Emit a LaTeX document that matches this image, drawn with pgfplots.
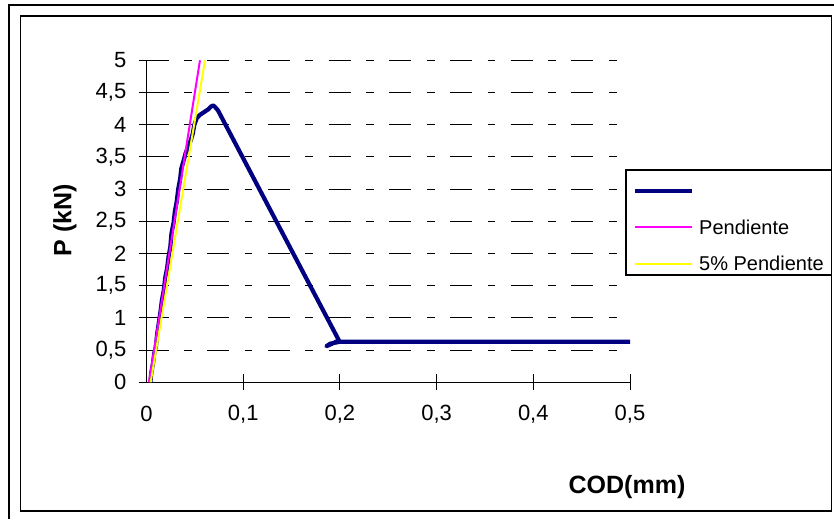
\documentclass[border=0pt]{standalone}
\usepackage{pgfplots}
\pgfplotsset{compat=1.18}
\usepackage{fontspec}
\setmainfont{Liberation Sans}
\definecolor{navyc}{RGB}{0,0,128}
\definecolor{pinkc}{RGB}{255,0,255}
\definecolor{yellowc}{RGB}{255,255,0}
\begin{document}
\begin{tikzpicture}[x=1pt,y=1pt]
\path[use as bounding box] (0,0) rectangle (834,519);
\fill[white] (0,0) rectangle (834,519);
\draw[line width=2.7pt] (9,0) -- (9,514) -- (834,514);
\draw[line width=1.2pt] (20.5,8) rectangle (831.5,503);
\begin{axis}[
  at={(146.5pt,136.7pt)}, anchor=origin,
  scale only axis, width=483.5pt, height=322pt,
  xmin=0, xmax=0.5, ymin=0, ymax=5,
  clip=false,
  axis lines*=left,
  axis line style={-, line width=1.3pt},
  xtick={0.1,0.2,0.3,0.4,0.5},
  extra x ticks={0},
  extra x tick style={major tick length=0pt, xticklabel style={yshift=-9pt}},
  ytick={0,0.5,1,1.5,2,2.5,3,3.5,4,4.5,5},
  tick align=center,
  major tick length=16pt,
  tick style={line width=1pt, black},
  ymajorgrids,
  grid style={line width=1pt, black, dash pattern=on 22pt off 15.5pt on 7.7pt off 15.5pt},
  /pgf/number format/.cd, use comma, 1000 sep={}, assume math mode=true,
  /pgfplots/.cd,
  ticklabel style={font=\fontsize{22}{24}\selectfont},
  xticklabel style={inner sep=0pt, text height=16pt, text depth=0pt, anchor=north, yshift=-14pt},
  yticklabel style={inner sep=0pt, anchor=east, xshift=-12pt},
  xlabel={\textbf{COD(mm)}},
  ylabel={\textbf{P (kN)}},
  label style={font=\fontsize{25}{28}\selectfont},
  xlabel style={at={(axis description cs:0.9938,-0.325)}, anchor=center},
  ylabel style={at={(axis description cs:-0.1686,0.504)}, anchor=center},
  legend style={draw=none, fill=none, at={(1.0062,0.6168)}, anchor=north west,
    inner sep=0pt, outer sep=0pt, row sep=22.5pt, column sep=5pt,
    nodes={inner sep=0pt, text height=14pt, text depth=0pt, font=\fontsize{20}{22}\selectfont}},
  legend cell align=left,
  legend image code/.code={\draw[#1] (0pt,0pt) -- (57pt,0pt);},
]
\addplot[navyc, line width=4.2pt, line join=round] coordinates {
(0.004,0.00) (0.005,0.15) (0.0068,0.30) (0.0080,0.45) (0.0098,0.56) (0.0110,0.75)
(0.0128,0.93) (0.0145,1.10) (0.0158,1.26) (0.0180,1.44) (0.0193,1.62) (0.0212,1.76)
(0.0228,1.95) (0.0246,2.10) (0.0258,2.31) (0.0280,2.48) (0.0294,2.66) (0.0312,2.80)
(0.0328,3.00) (0.0348,3.16) (0.0360,3.32) (0.0385,3.45) (0.0405,3.56) (0.0432,3.66)
(0.0458,3.76) (0.0478,3.86) (0.0495,4.00) (0.0520,4.10) (0.0550,4.15) (0.0580,4.18)
(0.0610,4.21) (0.0640,4.24) (0.0665,4.28) (0.0690,4.30) (0.0712,4.27) (0.0740,4.22)
(0.1990,0.65) (0.1920,0.60) (0.1860,0.56) (0.1900,0.60) (0.2000,0.63) (0.5000,0.63)
};
\addlegendentry{}
\addplot[pinkc, line width=2pt] coordinates {(0.0025,0) (0.0553,5)};
\addlegendentry{Pendiente}
\addplot[yellowc, line width=2pt] coordinates {(0.0043,0) (0.0605,5)};
\addlegendentry{5\% Pendiente}
\end{axis}
\draw[line width=1.2pt] (626,349) rectangle (831.5,244);
\end{tikzpicture}
\end{document}
